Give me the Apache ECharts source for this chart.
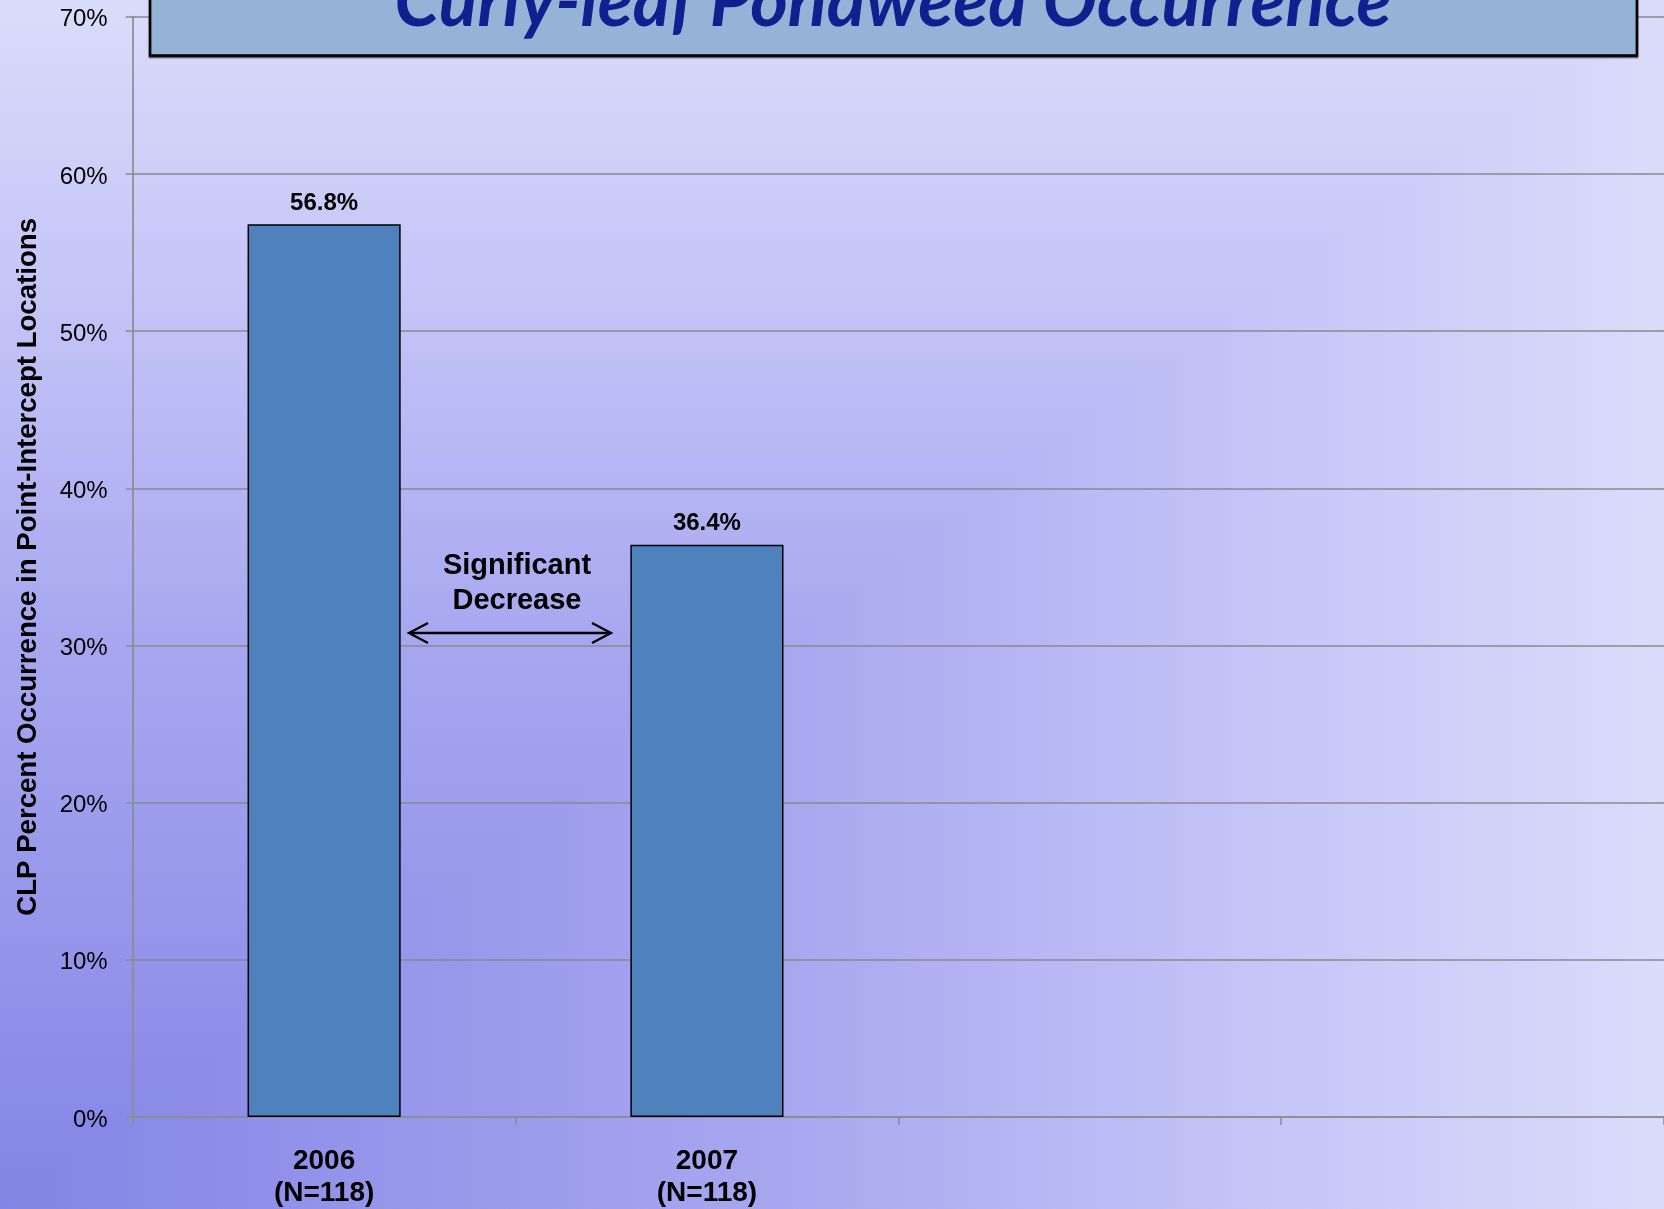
<!DOCTYPE html>
<html>
<head>
<meta charset="utf-8">
<script src="https://cdn.jsdelivr.net/npm/echarts@6/dist/echarts.min.js"></script>
<style>
html,body{margin:0;padding:0;background:#fff;}
#main{width:1664px;height:1209px;}
</style>
</head>
<body>
<div id="main"></div>
<script>
const categories = ['2006\n(N=118)', '2007\n(N=118)', '', ''];
const occurrence = [56.8, 36.4, null, null];
const yTicks = [0, 10, 20, 30, 40, 50, 60, 70];
const titleText = 'Curly-leaf Pondweed Occurrence';
const yAxisName = 'CLP Percent Occurrence in Point-Intercept Locations';
const annotationText = 'Significant\nDecrease';

const W = 1664, H = 1209;
const ramp = [
  {offset: 0, color: '#8484E6'},
  {offset: 0.48, color: '#A8A8F0'},
  {offset: 0.75, color: '#C4C4F8'},
  {offset: 1, color: '#DBDBFA'}
];

const chart = echarts.init(document.getElementById('main'), null, {renderer: 'canvas'});
const FONT = "'Liberation Sans', Arial, sans-serif";

const option = {
  animation: false,
  backgroundColor: 'transparent',
  grid: {left: 132.7, right: 0, top: 16.7, bottom: 90.5, containLabel: false},
  xAxis: {
    type: 'category',
    data: categories,
    boundaryGap: true,
    axisLine: {show: true, lineStyle: {color: '#8c8c8c', width: 1.7}},
    axisTick: {show: true, alignWithLabel: false, interval: 0, length: 8, lineStyle: {color: '#8c8c8c', width: 1.5}},
    axisLabel: {
      interval: 0, margin: 28, color: '#000', fontFamily: FONT, fontWeight: 'bold',
      fontSize: 28, lineHeight: 32
    },
    splitLine: {show: false}
  },
  yAxis: {
    type: 'value',
    min: 0, max: 70, interval: 10,
    name: yAxisName,
    nameLocation: 'middle',
    nameGap: 90,
    nameTextStyle: {color: '#000', fontFamily: FONT, fontWeight: 'bold', fontSize: 27.6},
    axisLine: {show: true, lineStyle: {color: '#8c8c8c', width: 1.7}},
    axisTick: {show: true, length: 7, lineStyle: {color: '#8c8c8c', width: 1.5}},
    axisLabel: {
      margin: 25, color: '#000', fontFamily: FONT, fontSize: 24,
      verticalAlign: 'top', lineHeight: 6,
      formatter: v => (yTicks.indexOf(v) >= 0 ? v + '%' : '')
    },
    splitLine: {show: true, lineStyle: {color: '#8a8a8a', width: 1.5}}
  },
  series: [{
    type: 'bar',
    data: occurrence,
    barWidth: '40%',
    itemStyle: {color: '#4F81BD', borderColor: '#000', borderWidth: 1.5},
    label: {
      show: true, position: 'top', distance: 9,
      color: '#000', fontFamily: FONT, fontWeight: 'bold', fontSize: 24,
      formatter: p => p.value.toFixed(1) + '%'
    },
    z: 3
  }],
  graphic: [
    {
      type: 'rect', z: -100, silent: true,
      shape: {x: 0, y: 0, width: W, height: H},
      style: {fill: new echarts.graphic.LinearGradient(0, 0, 1, 0, ramp)}
    },
    {
      type: 'rect', z: -99, silent: true,
      shape: {x: 0, y: 0, width: W, height: H},
      style: {fill: new echarts.graphic.LinearGradient(0, 1, 0, 0, ramp), blend: 'lighten'}
    },
    {
      type: 'rect', z: 100, silent: true,
      shape: {x: 150, y: -30, width: 1487, height: 85.5},
      style: {fill: '#95B3D7', stroke: '#000', lineWidth: 2.5, shadowColor: 'rgba(0,0,0,0.6)', shadowOffsetY: 1.5, shadowBlur: 1}
    },
    {
      type: 'text', z: 101, silent: true,
      x: 893, y: 39,
      style: {
        text: titleText, fill: '#10208E',
        font: "italic bold 72px Lato, 'Open Sans', sans-serif",
        textAlign: 'center', textVerticalAlign: 'bottom'
      }
    },
    {
      type: 'text', z: 50, silent: true,
      x: 517, y: 583,
      style: {
        text: annotationText, fill: '#000',
        font: "bold 29px 'Liberation Sans', Arial, sans-serif",
        lineHeight: 35,
        textAlign: 'center', textVerticalAlign: 'middle'
      }
    },
    {
      type: 'line', z: 50, silent: true,
      shape: {x1: 410, y1: 633, x2: 610, y2: 633},
      style: {stroke: '#000', lineWidth: 2.3}
    },
    {
      type: 'polyline', z: 50, silent: true,
      shape: {points: [[428, 623], [409, 633], [428, 643]]},
      style: {stroke: '#000', lineWidth: 2.3, fill: null}
    },
    {
      type: 'polyline', z: 50, silent: true,
      shape: {points: [[592, 623], [611, 633], [592, 643]]},
      style: {stroke: '#000', lineWidth: 2.3, fill: null}
    }
  ]
};
chart.setOption(option);
</script>
</body>
</html>
